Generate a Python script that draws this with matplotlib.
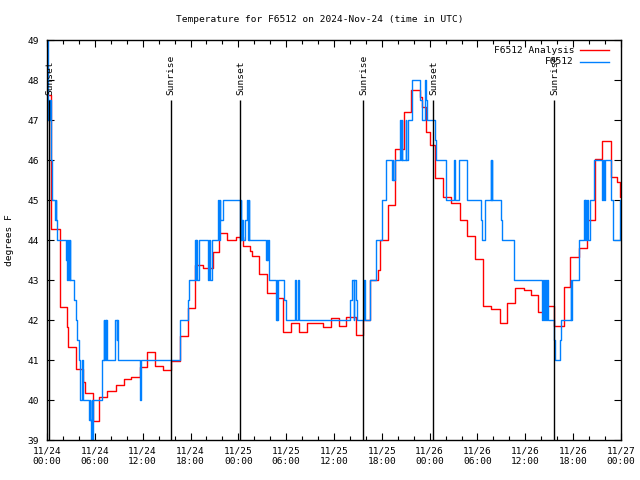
import matplotlib
matplotlib.use("Agg")
import matplotlib.pyplot as plt
from matplotlib.lines import Line2D

plt.rcParams['font.family'] = ['DejaVu Sans Mono']

# ---------------- data (hours since 11/24 00:00 UTC, degrees F) ----------------
analysis_hours = [0.0, 0.54, 1.59, 1.69, 2.55, 2.67, 3.60, 4.55, 4.73, 5.77, 6.52, 7.56,
                  8.62, 9.66, 10.57, 11.67, 12.58, 13.55, 14.51, 15.55, 16.68, 17.72,
                  18.57, 19.61, 20.86, 21.58, 22.58, 23.71, 24.62, 25.46, 25.68, 26.63,
                  27.60, 28.81, 29.57, 30.61, 31.65, 32.58, 34.66, 35.62, 36.59, 37.51,
                  38.76, 39.64, 40.56, 41.52, 41.81, 42.77, 43.61, 44.74, 45.66, 46.75,
                  47.04, 47.54, 48.01, 48.71, 49.67, 50.72, 51.77, 52.72, 53.65, 54.69,
                  55.73, 56.79, 57.70, 58.74, 59.83, 60.67, 61.59, 62.76, 63.60, 64.85,
                  65.60, 66.73, 67.70, 68.70, 69.65, 70.71, 71.54, 71.88, 72.0]
analysis_temps = [47.63, 44.27, 43.30, 42.32, 41.83, 41.32, 40.77, 40.46, 40.17, 39.47, 40.08, 40.22,
                  40.37, 40.52, 40.58, 40.83, 41.21, 40.85, 40.75, 40.97, 41.60, 42.29,
                  43.38, 43.29, 43.71, 44.17, 44.00, 44.08, 43.86, 43.73, 43.60, 43.15,
                  42.67, 42.54, 41.69, 41.92, 41.69, 41.92, 41.83, 42.04, 41.85, 42.08,
                  41.63, 42.00, 43.00, 43.25, 44.00, 44.88, 46.27, 47.21, 47.75, 47.58,
                  47.33, 46.71, 46.38, 45.54, 45.07, 44.93, 44.50, 44.10, 43.52, 42.35,
                  42.27, 41.92, 42.42, 42.79, 42.75, 42.63, 42.19, 42.35, 41.86, 42.82,
                  43.57, 43.79, 44.50, 46.02, 46.48, 45.58, 45.46, 45.08, 45.08]

obs_hours = [0.0, 0.08, 0.16, 0.23, 0.30, 0.38, 0.44, 0.54, 0.63, 1.00, 1.08, 1.15, 1.22,
             2.35, 2.45, 2.57, 2.66, 2.76, 2.83, 2.92, 3.39, 3.60, 3.80, 4.01, 4.14, 4.43,
             4.55, 5.27, 5.36, 5.43, 5.49, 5.59, 5.68, 5.77, 6.94, 7.09, 7.18, 7.25, 7.34,
             7.43, 7.50, 8.53, 8.74, 8.84, 8.94, 11.67, 11.75, 16.68, 17.72, 17.85, 18.57,
             18.66, 18.75, 18.85, 19.10, 20.23, 20.32, 20.42, 20.66, 21.49, 21.58, 21.67,
             21.76, 22.04, 24.21, 24.29, 24.37, 24.46, 24.62, 24.87, 25.08, 25.21, 25.29,
             25.39, 27.47, 27.56, 27.63, 27.72, 27.80, 28.72, 28.81, 28.89, 28.94, 29.77,
             29.98, 31.14, 31.23, 31.52, 31.65, 38.04, 38.26, 38.45, 38.55, 38.70, 38.89,
             39.73, 39.85, 40.56, 41.31, 42.02, 42.56, 43.28, 43.36, 43.46, 43.61, 44.32,
             44.40, 44.49, 44.59, 44.74, 44.97, 45.07, 45.28, 45.79, 46.83, 47.04, 47.38,
             47.54, 47.67, 48.71, 48.83, 50.09, 51.05, 51.13, 51.18, 51.22, 51.64, 52.72,
             54.40, 54.57, 54.98, 55.66, 55.73, 55.78, 55.82, 56.99, 57.08, 58.54, 62.13,
             62.22, 62.34, 62.47, 62.59, 62.69, 62.84, 63.60, 63.68, 64.35, 64.51, 65.69,
             65.79, 65.89, 66.73, 67.36, 67.44, 67.54, 67.65, 67.74, 67.86, 68.11, 68.61,
             69.65, 69.74, 69.83, 69.96, 70.71, 71.04, 71.88, 71.94, 72.0]
obs_temps = [49.2, 47.5, 47.0, 47.5, 47.0, 47.5, 46.5, 46.0, 45.0, 44.5, 45.0, 44.5, 44.0,
             43.5, 44.0, 43.0, 44.0, 43.0, 44.0, 43.0, 42.5, 42.0, 41.5, 41.0, 40.0, 41.0,
             40.0, 39.5, 40.0, 39.5, 38.5, 40.0, 38.5, 40.0, 41.0, 42.0, 41.0, 42.0, 41.0,
             42.0, 41.0, 42.0, 41.5, 42.0, 41.0, 40.0, 41.0, 42.0, 42.5, 43.0, 44.0,
             43.0, 44.0, 43.0, 44.0, 43.0, 44.0, 43.0, 44.0, 45.0, 44.0, 45.0,
             44.5, 45.0, 44.0, 45.0, 44.0, 44.5, 44.0, 44.5, 45.0, 44.0, 45.0,
             44.0, 43.5, 44.0, 43.5, 44.0, 43.0, 42.0, 43.0, 42.0, 43.0, 42.5,
             42.0, 43.0, 42.0, 43.0, 42.0, 42.5, 43.0, 42.0, 43.0, 42.5, 42.0,
             43.0, 42.0, 43.0, 44.0, 45.0, 46.0, 45.5, 46.0, 45.5, 46.0, 47.0,
             46.0, 47.0, 46.0, 46.0, 47.0, 46.0, 47.0, 48.0, 47.5, 47.0, 48.0,
             47.5, 47.0, 46.5, 46.0, 45.0, 46.0, 45.0, 46.0, 45.0, 46.0, 45.0,
             44.5, 44.0, 45.0, 46.0, 45.0, 46.0, 45.0, 44.5, 44.0, 43.0, 42.0,
             43.0, 42.0, 43.0, 42.0, 43.0, 42.0, 41.5, 41.0, 41.5, 42.0, 43.0,
             42.0, 43.0, 44.0, 45.0, 44.0, 45.0, 44.0, 45.0, 44.0, 45.0, 46.0,
             45.0, 46.0, 45.0, 46.0, 45.0, 44.0, 45.0, 44.5, 44.5]

sun_hours = [0.2, 15.5, 24.25, 39.6, 48.38, 63.64]
sun_labels = ["Sunset", "Sunrise", "Sunset", "Sunrise", "Sunset", "Sunrise"]
sun_line_top = 47.5

series_names = ["F6512 Analysis", "F6512"]
series_colors = ["#ff0000", "#0080ff"]

x_tick_hours = [0, 6, 12, 18, 24, 30, 36, 42, 48, 54, 60, 66, 72]
x_tick_labels = ["11/24\n00:00", "11/24\n06:00", "11/24\n12:00", "11/24\n18:00",
                 "11/25\n00:00", "11/25\n06:00", "11/25\n12:00", "11/25\n18:00",
                 "11/26\n00:00", "11/26\n06:00", "11/26\n12:00", "11/26\n18:00",
                 "11/27\n00:00"]
y_ticks = [39, 40, 41, 42, 43, 44, 45, 46, 47, 48, 49]

title = "Temperature for F6512 on 2024-Nov-24 (time in UTC)"
ylabel = "degrees F"

# ---------------- figure ----------------
fs = 6.8
fig = plt.figure(figsize=(6.4, 4.8), dpi=100)
ax = fig.add_axes([47 / 640, 40 / 480, 574 / 640, 400 / 480])

ax.plot(analysis_hours, analysis_temps, drawstyle='steps-post', color=series_colors[0], lw=1.0)
ax.plot(obs_hours, obs_temps, drawstyle='steps-post', color=series_colors[1], lw=1.0)

ax.vlines(sun_hours, 39, sun_line_top, color='black', lw=1.0)
for h, lab in zip(sun_hours, sun_labels):
    ax.text(h + 0.1, sun_line_top + 0.12, lab, rotation=90, ha='center', va='bottom', fontsize=fs)

ax.set_xlim(0, 72)
ax.set_ylim(39, 49)
ax.set_xticks(x_tick_hours)
ax.set_xticklabels(x_tick_labels, fontsize=fs, linespacing=1.2)
ax.set_xticks(range(0, 73, 2), minor=True)
ax.set_yticks(y_ticks)
ax.set_yticklabels([str(v) for v in y_ticks], fontsize=fs)
ax.tick_params(which='both', direction='in', top=True, right=True, width=0.8)
ax.tick_params(axis='x', which='major', length=5, pad=5)
ax.tick_params(axis='y', which='major', length=5, pad=6)
ax.tick_params(which='minor', length=3)
for sp in ax.spines.values():
    sp.set_linewidth(1.0)

fig.text(0.5, 1 - 19 / 480, title, ha='center', va='center', fontsize=fs)
fig.text(10 / 640, 0.5, ylabel, rotation=90, ha='center', va='center', fontsize=fs)

# legend drawn manually in axes coordinates
for i, (name, col) in enumerate(zip(series_names, series_colors)):
    yy = 1 - (10.5 + 11.5 * i) / 400
    ax.text((574 - 47) / 574, yy, name, ha='right', va='center', fontsize=fs,
            transform=ax.transAxes)
    ax.add_line(Line2D([(580 - 47) / 574, (609 - 47) / 574], [yy, yy],
                       transform=ax.transAxes, color=col, lw=1.0))

fig.savefig("out.png", dpi=100)
